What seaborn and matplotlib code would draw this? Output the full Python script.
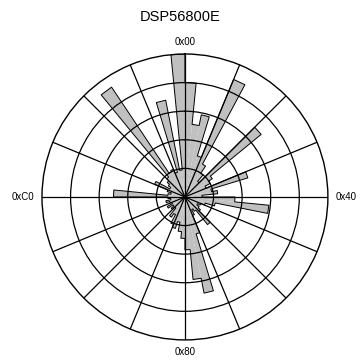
import numpy as np
import matplotlib
matplotlib.use("Agg")
import matplotlib.pyplot as plt
import seaborn as sns

# opcode byte histogram, 64 bins of 4 byte values each (0x00..0xFC)
bin_start = list(range(0, 256, 4))
heights = [4.0, 2.55, 2.93, 1.5, 4.45, 1.3, 1.0, 0.7,
           3.45, 1.15, 1.0, 0.8, 2.3, 0.95, 1.15, 0.6,
           1.75, 2.95, 1.08, 0.74, 0.6, 0.5, 0.6, 0.7,
           1.25, 0.6, 0.5, 0.7, 1.35, 3.43, 2.9, 1.85,
           1.45, 1.22, 0.9, 1.15, 1.04, 0.7, 0.85, 0.5,
           0.62, 0.5, 0.7, 0.5, 0.55, 0.68, 0.5, 0.6,
           2.5, 0.6, 0.5, 0.65, 1.15, 0.6, 0.7, 0.8,
           0.9, 4.62, 1.0, 1.05, 0.9, 3.45, 0.95, 5.0]
spoke_bytes = [0x00, 0x10, 0x20, 0x30, 0x40, 0x50, 0x60, 0x70,
               0x80, 0x90, 0xA0, 0xB0, 0xC0, 0xD0, 0xE0, 0xF0]
label_bytes = [0x00, 0x40, 0x80, 0xC0]
label_text = ['0x00', '0x40', '0x80', '0xC0']
title = 'DSP56800E'

sns.set_style("white")
plt.rcParams['font.family'] = ['Liberation Sans', 'DejaVu Sans']

fig = plt.figure(figsize=(3.61, 3.63), dpi=100)
ax = fig.add_axes([0.1163, 0.0634, 0.792, 0.788], projection='polar')
ax.set_theta_zero_location('N')
ax.set_theta_direction(-1)

step = 2 * np.pi / 256
theta0 = np.array(bin_start) * step
width = 4 * step
ax.bar(theta0, heights, width=width, align='edge', color='#c0c0c0',
       edgecolor='none', linewidth=0, zorder=1)

# step outline of the histogram
ot, orr = [], []
for t, h in zip(theta0, heights):
    ot += [t, t + width]
    orr += [h, h]
ot.append(ot[0])
orr.append(orr[0])
sns.lineplot(x=ot, y=orr, sort=False, estimator=None, color='black',
             linewidth=0.7, ax=ax, zorder=2)
ax.set_xlabel('')
ax.set_ylabel('')

ax.set_ylim(0, 5)
ax.set_rgrids([1, 2, 3, 4], labels=['', '', '', ''])
ax.set_thetagrids(np.array(spoke_bytes) * 360 / 256,
                  labels=[''] * len(spoke_bytes))
ax.grid(True, color='black', linewidth=0.9, linestyle='-')
ax.set_axisbelow(False)
ax.spines['polar'].set_color('black')
ax.spines['polar'].set_linewidth(1.0)

for b, s in zip(label_bytes, label_text):
    r = 5.42 if b in (0x00, 0x80) else 5.65
    ax.text(b * step, r, s, ha='center', va='center', fontsize=7,
            color='black', clip_on=False)

fig.text(0.5, 0.953, title, ha='center', va='center', fontsize=10.5,
         color='black')

fig.savefig('out.png', dpi=100)
